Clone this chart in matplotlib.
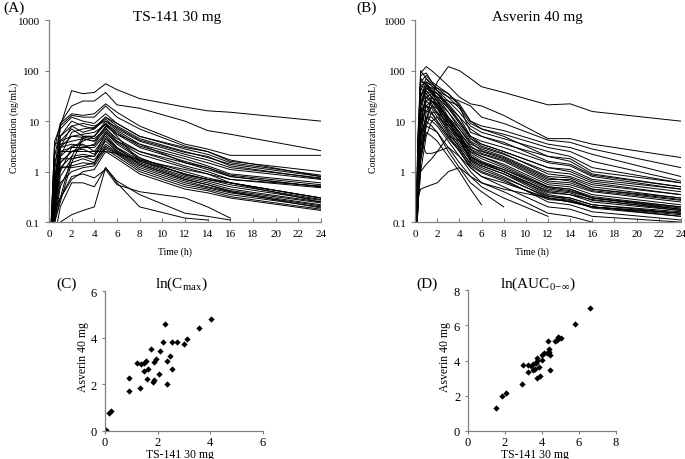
import numpy as np
import matplotlib
matplotlib.use("Agg")
import matplotlib.pyplot as plt

plt.rcParams['font.family'] = ['Liberation Serif', 'DejaVu Serif']

nan = np.nan

# Panel A: TS-141 30 mg, concentration-time profiles (ng/mL)
times_a = [0, 0.5, 1, 2, 3, 4, 5, 6, 8, 12, 14, 16, 24]
profiles_a = [
    [0.01, 0.5, 8, 40, 35, 37, 55, 42, 28, 19, 16, 15, 10],
    [0.01, 1.0, 9, 20, 25, 25, 37, 21, 18, 10, 6.5, 5.5, 2.6],
    [0.01, 3, 9, 14, 13, 14, 22, 15, 8, 3.5, 2.8, 2.1, 2.1],
    [0.01, 4, 8, 13, 12, 12, 20, 12, 7, 3.2, 2.5, 1.6, 1.0],
    [0.01, 2, 7, 12, 10, 9, 14, 9, 5, 2.8, 2.2, 1.5, 0.85],
    [0.01, 0.3, 5, 10, 8, 7, 12, 8, 4.5, 2.5, 1.9, 1.4, 0.8],
    [0.01, 0.2, 3, 8, 6, 7, 11, 7, 4, 2.2, 1.7, 1.2, 0.75],
    [0.01, 0.5, 4, 7, 5, 5, 10, 6.5, 3.5, 2.0, 1.5, 1.1, 0.7],
    [0.01, 0.15, 0.3, 2, 5, 5, 9, 6, 3.2, 1.8, 1.3, 0.9, 0.6],
    [0.01, 0.1, 0.25, 1.5, 4.5, 4, 8, 5.5, 3, 1.6, 1.2, 0.85, 0.55],
    [0.01, 3.5, 4, 5, 4.8, 4.5, 7, 4.5, 2.5, 1.5, 1.1, 0.8, 0.5],
    [0.01, 1.5, 3.5, 4, 4.5, 4, 6.5, 4, 2.2, 1.2, 0.9, 0.7, 0.48],
    [0.01, 0.8, 3, 3.5, 3.2, 3.3, 6, 3.5, 1.8, 1.0, 0.75, 0.6, 0.3],
    [0.01, 0.4, 2.5, 3, 3, 3, 5.5, 3, 1.7, 0.9, 0.7, 0.55, 0.28],
    [0.01, 0.25, 2, 3.2, 3.5, 2.5, 5, 2.8, 1.6, 0.8, 0.65, 0.5, 0.27],
    [0.01, 0.2, 1.5, 2.5, 2.8, 2.2, 4.5, 2.6, 1.5, 0.75, 0.6, 0.45, 0.25],
    [0.01, 0.15, 1.2, 2, 2.2, 2, 4, 2.5, 1.4, 0.7, 0.55, 0.42, 0.24],
    [0.01, 0.12, 0.8, 1.8, 2, 1.7, 3.5, 2.4, 1.3, 0.65, 0.5, 0.4, 0.22],
    [0.01, 0.1, 0.5, 1.5, 1.8, 1.5, 3.2, 2.3, 1.2, 0.6, 0.48, 0.38, 0.21],
    [0.01, 0.3, 2.5, 2.5, 2.5, 2.5, 2.5, 2.3, 1.7, 1.1, 0.9, 0.6, 0.3],
    [0.01, 0.2, 1.2, 1.2, 1.3, 1.5, 3, 2.2, 1.1, 0.55, 0.45, 0.35, 0.2],
    [0.01, 0.15, 0.6, 1.0, 1.2, 1.3, 2.8, 2.0, 1.0, 0.5, 0.42, 0.32, 0.18],
    [0.01, 0.2, 0.3, 0.7, 1.0, 1.1, 2.5, 1.8, 0.9, 0.45, 0.38, 0.3, 0.17],
    [0.01, 0.05, 0.2, 0.6, 0.6, 0.5, 1.2, 0.65, 0.35, 0.15, 0.13, 0.11, nan],
    [0.01, 0.05, 0.1, 0.14, 0.17, 0.2, 1.2, 0.6, 0.2, 0.12, 0.11, nan, nan],
    [0.01, 0.1, 0.3, 0.8, 0.9, 0.75, 1.1, 0.55, 0.4, 0.3, 0.2, 0.12, nan],
    [0.01, 0.2, 2, 6, 7, 7.5, 12, 9, 5, 3, 2.5, 1.7, 0.8],
    [0.01, 0.5, 5, 8, 9, 8, 10, 7.5, 4.2, 2.4, 2.0, 1.3, 0.72],
    [0.01, 0.2, 1, 3, 4, 5, 9, 5.5, 3.5, 1.5, 1.2, 0.8, 0.5],
    [0.01, 0.3, 1.5, 2.5, 3, 3.5, 7.5, 4, 2.5, 1.3, 1.0, 0.7, 0.52],
    [0.01, 0.6, 3, 5, 5.5, 6, 8.5, 5, 1.6, 0.9, 0.7, 0.6, 0.25],
    [0.01, 0.3, 1.8, 1.8, 2, 2, 6, 3.8, 1.9, 0.85, 0.7, 0.6, 0.3],
    [0.01, 0.4, 1.2, 1.3, 1.5, 1.4, 4.5, 3, 1.4, 0.7, 0.55, 0.4, 0.19],
]

# Panel B: Asverin 40 mg
times_b = [0, 0.25, 0.5, 1, 1.5, 2, 3, 4, 5, 6, 8, 12, 14, 16, 24]
profiles_b = [
    [0.01, 0.2, 2, 10, 30, 60, 120, 100, 70, 48, 37, 21, 22, 15.5, 10],
    [0.01, 5, 90, 120, 100, 80, 50, 30, 22, 20, 13, 4.5, 4.5, 3.5, 1.9],
    [0.01, 3, 100, 70, 50, 40, 30, 25, 20, 12, 9, 4.2, 3.8, 2.8, 1.2],
    [0.01, 2, 60, 80, 60, 50, 35, 22, 10, 8, 6.5, 3.5, 3, 2.2, 0.8],
    [0.01, 1.5, 40, 70, 55, 45, 30, 18, 9, 7, 5.5, 3, 2.5, 1.6, 0.65],
    [0.01, 1, 30, 60, 50, 40, 25, 15, 8, 6, 4.5, 2.5, 2, 1.2, 0.6],
    [0.01, 0.8, 20, 50, 45, 45, 35, 20, 6, 5, 3.5, 2.0, 1.6, 0.9, 0.5],
    [0.01, 0.5, 15, 45, 40, 35, 20, 12, 5, 4, 3, 1.5, 1.3, 0.8, 0.45],
    [0.01, 0.4, 8, 35, 40, 30, 18, 10, 4.5, 3.5, 2.5, 1.2, 1.0, 0.65, 0.4],
    [0.01, 0.3, 5, 25, 30, 25, 15, 8, 4, 3, 2.2, 1.0, 0.9, 0.6, 0.35],
    [0.01, 0.25, 3, 15, 25, 20, 12, 7, 3.5, 2.8, 2, 0.8, 0.75, 0.5, 0.3],
    [0.01, 0.2, 2, 10, 20, 18, 10, 6, 3, 2.5, 1.8, 0.7, 0.7, 0.45, 0.28],
    [0.01, 0.3, 1.5, 8, 15, 15, 9, 5, 2.8, 2.2, 1.6, 0.6, 0.55, 0.4, 0.25],
    [0.01, 0.2, 1, 5, 10, 12, 8, 4.5, 2.5, 2.0, 1.4, 0.55, 0.5, 0.35, 0.22],
    [0.01, 0.5, 4, 2.3, 2.3, 2.5, 5, 4, 2, 1.5, 1.1, 0.5, 0.45, 0.3, 0.2],
    [0.01, 0.3, 0.45, 0.5, 0.55, 0.6, 1.0, 1.2, 0.8, 0.6, 0.45, 0.3, 0.25, 0.2, 0.15],
    [0.01, 0.25, 1, 1.4, 1.8, 2.5, 3, 2, 1.2, 0.8, 0.6, 0.3, 0.25, 0.2, 0.13],
    [0.01, 0.3, 10, 30, 25, 18, 8, 4, 1.8, 1.4, 1.0, 0.35, 0.3, 0.22, 0.15],
    [0.01, 0.4, 20, 40, 30, 20, 9, 4.5, 1.7, 1.3, 0.9, 0.33, 0.28, 0.2, 0.14],
    [0.01, 0.6, 25, 45, 35, 25, 10, 5, 1.6, 1.2, 0.8, 0.3, 0.27, 0.19, 0.13],
    [0.01, 0.8, 50, 60, 40, 28, 12, 6, 2.2, 1.6, 1.1, 0.45, 0.4, 0.3, 0.18],
    [0.01, 1, 60, 55, 38, 25, 11, 5.5, 2.0, 1.5, 1.0, 0.4, 0.35, 0.28, 0.17],
    [0.01, 0.5, 15, 25, 20, 14, 6, 3, 1.4, 1.0, 0.7, 0.25, 0.22, 0.16, 0.11],
    [0.01, 0.3, 8, 20, 15, 10, 5, 2.5, 1.2, 0.8, 0.5, 0.2, 0.18, 0.13, 0.1],
    [0.01, 0.3, 5, 12, 10, 8, 4, 2, 1.0, 0.6, 0.4, 0.15, 0.13, 0.1, nan],
    [0.01, 0.25, 3, 8, 7, 6, 3, 1.5, 0.8, 0.5, 0.3, 0.13, nan, nan, nan],
    [0.01, 0.2, 2, 6, 5, 4, 2, 1.0, 0.45, 0.22, nan, nan, nan, nan, nan],
    [0.01, 0.3, 4, 10, 8, 6, 2.5, 1.2, 0.6, 0.4, 0.2, nan, nan, nan, nan],
    [0.01, 1, 80, 90, 60, 40, 20, 10, 5, 3.5, 2.5, 1.2, 1.1, 0.7, 0.45],
    [0.01, 0.5, 30, 50, 45, 35, 18, 9, 4.5, 3.2, 2.3, 0.9, 0.8, 0.55, 0.35],
    [0.01, 0.4, 12, 30, 35, 30, 15, 7, 3.8, 2.6, 1.9, 0.75, 0.65, 0.45, 0.3],
    [0.01, 0.2, 6, 20, 25, 22, 11, 6, 3.2, 2.3, 1.7, 0.65, 0.6, 0.42, 0.27],
    [0.01, 2, 35, 40, 30, 22, 9, 4.8, 2.7, 2.0, 1.3, 0.5, 0.45, 0.32, 0.2],
    [0.01, 3, 45, 35, 25, 18, 7, 4, 2.4, 1.8, 1.2, 0.48, 0.42, 0.3, 0.19],
    [0.01, 1.5, 25, 30, 22, 15, 6.5, 3.5, 1.9, 1.5, 1.0, 0.42, 0.38, 0.27, 0.18],
    [0.01, 0.8, 15, 20, 18, 12, 5.5, 3.2, 1.7, 1.3, 0.9, 0.38, 0.35, 0.25, 0.17],
    [0.01, 0.6, 10, 16, 14, 10, 5, 2.8, 1.5, 1.1, 0.75, 0.32, 0.3, 0.22, 0.16],
    [0.01, 0.3, 5, 12, 12, 9, 4.5, 2.6, 1.3, 0.95, 0.65, 0.28, 0.26, 0.2, 0.15],
    [0.01, 4, 70, 50, 35, 30, 25, 20, 10, 7, 5, 2.0, 1.8, 1.0, 0.6],
    [0.01, 2, 50, 45, 40, 35, 22, 12, 7, 5, 3.8, 1.6, 1.4, 0.85, 0.5],
]

# Panel C: ln(Cmax), TS-141 (x) vs Asverin (y)
cmax_ts = [0.04, 0.16, 0.23, 0.9, 0.93, 1.33, 1.21, 1.38, 1.48, 1.55, 1.48, 1.65,
           1.59, 1.74, 1.83, 1.87, 1.87, 1.95, 2.06, 2.11, 2.2, 2.28, 2.34, 2.34,
           2.48, 2.56, 2.56, 2.75, 3.0, 3.13, 3.59, 4.04]
cmax_as = [0.06, 0.77, 0.87, 1.71, 2.29, 1.84, 2.91, 2.87, 2.91, 3.01, 2.56, 2.66,
           2.23, 3.51, 2.1, 2.17, 2.97, 3.09, 2.46, 3.41, 3.83, 4.57, 2.0, 3.01,
           3.21, 2.67, 3.8, 3.83, 3.71, 3.93, 4.4, 4.81]

# Panel D: ln(AUC0-inf)
auc_ts = [1.53, 1.84, 2.04, 2.94, 3.0, 3.23, 3.23, 3.39, 3.52, 3.54, 3.61, 3.68,
          3.75, 3.72, 3.75, 3.84, 3.9, 3.99, 4.01, 4.12, 4.26, 4.33, 4.37, 4.37,
          4.42, 4.46, 4.69, 4.8, 4.87, 4.95, 5.05, 5.8, 6.62]
auc_as = [1.28, 1.98, 2.18, 2.66, 3.75, 3.75, 3.35, 3.71, 3.79, 3.46, 3.52, 3.84,
          3.95, 2.99, 4.14, 3.62, 3.13, 4.01, 4.33, 4.44, 4.44, 5.14, 4.48, 4.63,
          4.31, 3.48, 5.14, 5.18, 5.35, 5.27, 5.27, 6.05, 7.0]

spine_col = '#808080'


def style_axes(ax):
    for s in ['top', 'right']:
        ax.spines[s].set_visible(False)
    for s in ['left', 'bottom']:
        ax.spines[s].set_color(spine_col)
        ax.spines[s].set_linewidth(0.9)
    ax.tick_params(axis='both', colors=spine_col, labelcolor='black', labelsize=8,
                   width=0.8, length=3)


def profile_panel(ax, times, profiles):
    for p in profiles:
        ax.plot(times, p, color='black', lw=0.7)
    ax.set_yscale('log')
    ax.set_ylim(0.1, 1000)
    ax.set_xlim(0, 24)
    ax.set_xticks(range(0, 25, 2))
    ax.set_yticks([0.1, 1, 10, 100, 1000])
    ax.set_yticklabels(['0.1', '1', '10', '100', '1000'])
    ax.minorticks_off()
    style_axes(ax)
    ax.tick_params(axis='x', direction='in', pad=5)
    ax.tick_params(axis='y', direction='out')


def scatter_panel(ax, x, y, lim):
    ax.plot(x, y, 'D', color='black', ms=3.2, mew=0)
    ax.set_xlim(0, lim)
    ax.set_ylim(0, lim)
    ax.set_xticks(range(0, lim + 1, 2))
    ax.set_yticks(range(0, lim + 1, 2))
    style_axes(ax)
    ax.tick_params(axis='both', direction='out', length=2, labelsize=9)
    ax.tick_params(axis='x', pad=1.5)


fig = plt.figure(figsize=(6.85, 4.6), dpi=100)

ax_a = fig.add_axes([0.0715, 0.515, 0.397, 0.439])
profile_panel(ax_a, times_a, profiles_a)
ax_b = fig.add_axes([0.606, 0.515, 0.388, 0.439])
profile_panel(ax_b, times_b, profiles_b)

ax_c = fig.add_axes([0.153, 0.061, 0.231, 0.304])
scatter_panel(ax_c, cmax_ts, cmax_as, 6)
ax_d = fig.add_axes([0.683, 0.061, 0.216, 0.306])
scatter_panel(ax_d, auc_ts, auc_as, 8)

W, H = 685.0, 460.0


def ftext(x, y, s, **kw):
    fig.text(x / W, 1 - y / H, s, ha='center', va='center', **kw)


ftext(14, 8, '(A)', fontsize=11)
ftext(367, 8, '(B)', fontsize=11)
ftext(177, 17, 'TS-141 30 mg', fontsize=11)
ftext(537, 17, 'Asverin 40 mg', fontsize=11)
ftext(175, 252, 'Time (h)', fontsize=7)
ftext(532, 252, 'Time (h)', fontsize=7)
ftext(14, 128, 'Concentration (ng/mL)', fontsize=7, rotation=90)
ftext(373, 128, 'Concentration (ng/mL)', fontsize=7, rotation=90)

ftext(67, 284, '(C)', fontsize=11)
ftext(427, 284, '(D)', fontsize=11)
ftext(181, 284, r'ln(C$_{\mathregular{max}}$)', fontsize=11)
ftext(538, 284, r'ln(AUC$_{\mathregular{0\!-\!\infty}}$)', fontsize=11)
ftext(83, 357, 'Asverin 40 mg', fontsize=8.5, rotation=90)
ftext(445, 357, 'Asverin 40 mg', fontsize=8.5, rotation=90)
ftext(180, 455, 'TS-141 30 mg', fontsize=8.5)
ftext(535, 455, 'TS-141 30 mg', fontsize=8.5)

fig.savefig('out.png', dpi=100)
